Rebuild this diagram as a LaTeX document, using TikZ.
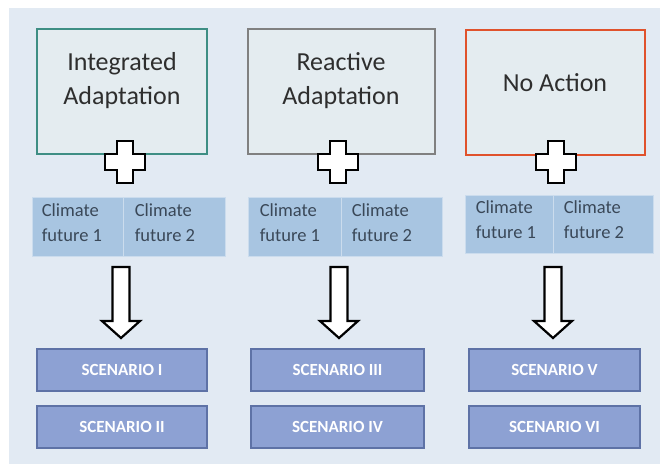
\documentclass[tikz,border=0pt]{standalone}
\usepackage{fontspec}
\setmainfont{Carlito}
\usetikzlibrary{calc}
\definecolor{bg}{HTML}{E2EAF3}
\definecolor{topfill}{HTML}{E4ECF0}
\definecolor{tealc}{HTML}{3E8E84}
\definecolor{greyc}{HTML}{808080}
\definecolor{orangec}{HTML}{E0522C}
\definecolor{climfill}{HTML}{A8C5E1}
\definecolor{climtext}{HTML}{3A4858}
\definecolor{scenfill}{HTML}{8DA1D3}
\definecolor{scendraw}{HTML}{5E72A6}
\tikzset{
  topbox/.style={draw, line width=2.5pt, fill=topfill, minimum width=#1, minimum height=125pt, inner sep=0pt},
  toptext/.style={font=\fontsize{26}{34}\selectfont, align=center, text=black!82},
  climbox/.style={fill=climfill, draw=climfill!60!white, line width=0.8pt, minimum height=59pt, inner sep=0pt},
  climtxt/.style={font=\fontsize{18.5}{25}\selectfont, align=left, text=climtext, anchor=north west, inner sep=0pt},
  scenbox/.style={draw=scendraw, line width=1.5pt, fill=scenfill, minimum width=#1, minimum height=42pt, inner sep=0pt,
     text=white, font=\bfseries\fontsize{17}{19}\selectfont},
  plusshape/.style={draw=black, fill=white, line width=2.6pt, line join=miter},
  hollowarrow/.style={draw=black, fill=white, line width=2.2pt, line join=miter},
}
\newcommand{\plussign}[2]{%
  \draw[plusshape] (#1-8,#2-21) -- (#1+8,#2-21) -- (#1+8,#2-8) -- (#1+20,#2-8) -- (#1+20,#2+8) -- (#1+8,#2+8)
    -- (#1+8,#2+21) -- (#1-8,#2+21) -- (#1-8,#2+8) -- (#1-20,#2+8) -- (#1-20,#2-8) -- (#1-8,#2-8) -- cycle;}
\newcommand{\downarrowshape}[1]{%
  \draw[hollowarrow] (#1-8.5,267) -- (#1+8.5,267) -- (#1+8.5,321) -- (#1+19,321) -- (#1,338) -- (#1-19,321)
    -- (#1-8.5,321) -- cycle;}
\begin{document}
\begin{tikzpicture}[x=1pt,y=-1pt]
\useasboundingbox (0,0) rectangle (665,466);
\fill[bg] (9,8) rectangle (660,464);

% top boxes
\node[topbox=170pt, draw=tealc] (ia) at (122,91.5) {};
\node[topbox=187pt, draw=greyc] (ra) at (341.5,91.5) {};
\node[topbox=179pt, draw=orangec] (na) at (555.5,92.5) {};
\node[toptext] (iat) at (122,81) {Integrated\\Adaptation};
\node[toptext] (rat) at (341,81) {Reactive\\Adaptation};
\node[toptext] (nat) at (555,83) {No Action};

% plus signs
\plussign{125}{162}
\plussign{338}{162}
\plussign{556}{162}

% climate boxes
\node[climbox, minimum width=91pt] (c11) at (77.5,226.5) {};
\node[climbox, minimum width=102pt] (c12) at (174,226.5) {};
\node[climbox, minimum width=93pt] (c21) at (294.5,226.5) {};
\node[climbox, minimum width=101pt] (c22) at (391.5,226.5) {};
\node[climbox, minimum width=88pt, minimum height=58pt] (c31) at (509,224) {};
\node[climbox, minimum width=100pt, minimum height=58pt] (c32) at (603,224) {};
\node[climtxt] (t11) at ($(c11.north west)+(10,7)$) {Climate\\future 1};
\node[climtxt] (t12) at ($(c12.north west)+(12,7)$) {Climate\\future 2};
\node[climtxt] (t21) at ($(c21.north west)+(12,7)$) {Climate\\future 1};
\node[climtxt] (t22) at ($(c22.north west)+(11,7)$) {Climate\\future 2};
\node[climtxt] (t31) at ($(c31.north west)+(11,6)$) {Climate\\future 1};
\node[climtxt] (t32) at ($(c32.north west)+(11,6)$) {Climate\\future 2};

% arrows
\downarrowshape{121}
\downarrowshape{339}
\downarrowshape{553}

% scenario boxes
\node[scenbox=170pt] (s1) at (122,370) {SCENARIO I};
\node[scenbox=170pt] (s2) at (122,427) {SCENARIO II};
\node[scenbox=173pt] (s3) at (337.5,370) {SCENARIO III};
\node[scenbox=173pt] (s4) at (337.5,427) {SCENARIO IV};
\node[scenbox=171pt] (s5) at (554.5,370) {SCENARIO V};
\node[scenbox=171pt] (s6) at (554.5,427) {SCENARIO VI};
\end{tikzpicture}
\end{document}
